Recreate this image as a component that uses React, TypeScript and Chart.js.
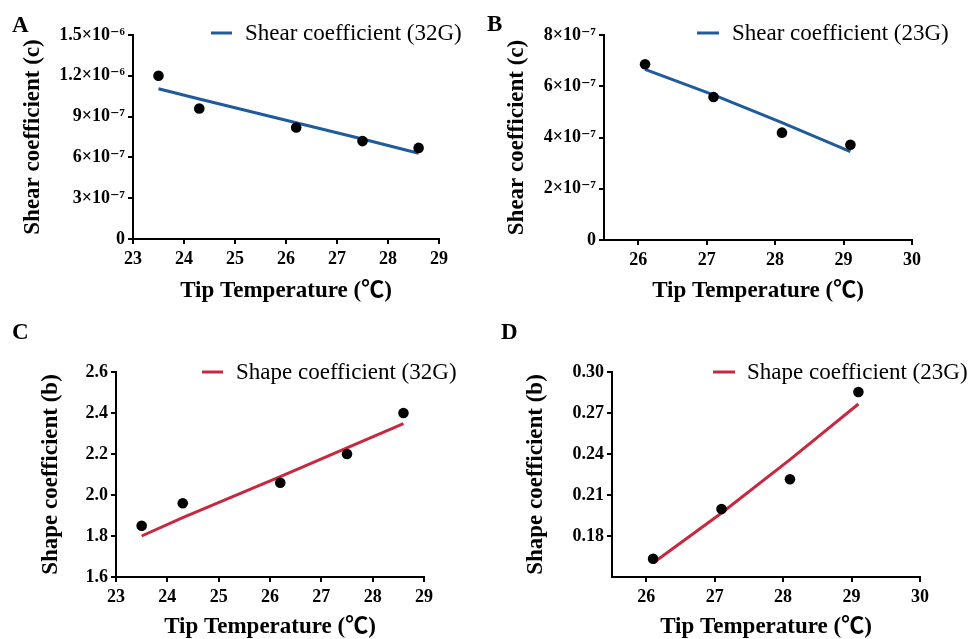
import React, { useEffect, useRef } from "react";
import { Chart, registerables } from "chart.js";

Chart.register(...registerables);

// ---------- DATA ----------
const tempA = [23.5, 24.3, 26.2, 27.5, 28.6];
const shearA = [1.2e-6, 0.96e-6, 0.82e-6, 0.72e-6, 0.67e-6];
const shearFitA = [1.105e-6, 1.03e-6, 0.855e-6, 0.735e-6, 0.63e-6];

const tempB = [26.1, 27.1, 28.1, 29.1];
const shearB = [6.86e-7, 5.58e-7, 4.19e-7, 3.72e-7];
const shearFitB = [6.66e-7, 5.66e-7, 4.58e-7, 3.45e-7];

const tempC = [23.5, 24.3, 26.2, 27.5, 28.6];
const shapeC = [1.85, 1.96, 2.06, 2.2, 2.4];
const shapeFitC = [1.8, 1.89, 2.09, 2.23, 2.348];

const tempD = [26.1, 27.1, 28.1, 29.1];
const shapeD = [0.1634, 0.1998, 0.2215, 0.2854];
const shapeFitD = [0.1602, 0.1968, 0.2359, 0.2766];

const xTicksAC = [23, 24, 25, 26, 27, 28, 29];
const xTicksBD = [26, 27, 28, 29, 30];

const yTicksA = [0, 3e-7, 6e-7, 9e-7, 1.2e-6, 1.5e-6];
const yLabelsA = ["0", "3×10⁻⁷", "6×10⁻⁷", "9×10⁻⁷", "1.2×10⁻⁶", "1.5×10⁻⁶"];
const yTicksB = [0, 2e-7, 4e-7, 6e-7, 8e-7];
const yLabelsB = ["0", "2×10⁻⁷", "4×10⁻⁷", "6×10⁻⁷", "8×10⁻⁷"];
const yTicksC = [1.6, 1.8, 2.0, 2.2, 2.4, 2.6];
const yLabelsC = ["1.6", "1.8", "2.0", "2.2", "2.4", "2.6"];
const yTicksD = [0.18, 0.21, 0.24, 0.27, 0.3];
const yLabelsD = ["0.18", "0.21", "0.24", "0.27", "0.30"];

const xTitle = "Tip Temperature (℃)";
const BLUE = "#1f5a9c";
const RED = "#c8283f";
const FONT = "'Liberation Serif', 'Times New Roman', 'DejaVu Serif', serif";
const TITLE_FONT = "'Liberation Serif', 'Times New Roman', 'Noto Sans CJK SC', serif";

// ---------- plugin drawing panel letter & legend ----------
const decorPlugin = {
  id: "decor",
  afterDraw(chart: any) {
    const o = chart.options.plugins.decor;
    if (!o) return;
    const ctx = chart.ctx;
    ctx.save();
    ctx.fillStyle = "#000";
    ctx.textBaseline = "middle";
    ctx.textAlign = "left";
    ctx.font = `bold 23px ${FONT}`;
    ctx.fillText(o.letter, o.letterX, o.letterY);
    ctx.strokeStyle = o.color;
    ctx.lineWidth = 3;
    ctx.beginPath();
    ctx.moveTo(o.sw1, o.legY);
    ctx.lineTo(o.sw2, o.legY);
    ctx.stroke();
    ctx.font = `23px ${FONT}`;
    ctx.fillText(o.text, o.textX, o.legY + 1);
    ctx.restore();
  },
};

type Panel = {
  w: number;
  h: number;
  left: number;
  top: number;
  xs: number[];
  ys: number[];
  fit: number[];
  xMin: number;
  xMax: number;
  xTicks: number[];
  yMin: number;
  yMax: number;
  yTicks: number[];
  yLabels: string[];
  yTitle: string;
  color: string;
  legend: string;
  pad: { top: number; right: number };
  yWidth: number;
  xHeight: number;
  yTitlePad: number;
  xTitlePad: number;
  decor: any;
};

function ChartPanel({ p }: { p: Panel }) {
  const ref = useRef<HTMLCanvasElement | null>(null);
  useEffect(() => {
    if (!ref.current) return;
    const fitData = p.xs.map((x, i) => ({ x, y: p.fit[i] }));
    const ptData = p.xs.map((x, i) => ({ x, y: p.ys[i] }));
    const chart = new Chart(ref.current, {
      type: "scatter",
      data: {
        datasets: [
          {
            label: p.legend,
            data: fitData,
            showLine: true,
            borderColor: p.color,
            borderWidth: 3,
            pointRadius: 0,
            fill: false,
            order: 2,
          } as any,
          {
            label: "data",
            data: ptData,
            pointRadius: 5.3,
            pointBackgroundColor: "#000",
            pointBorderWidth: 0,
            showLine: false,
            order: 1,
          } as any,
        ],
      },
      options: {
        animation: false,
        responsive: false,
        events: [],
        layout: { padding: { top: p.pad.top, right: p.pad.right, left: 0, bottom: 0 } },
        plugins: {
          legend: { display: false },
          tooltip: { enabled: false },
          decor: p.decor,
        } as any,
        scales: {
          x: {
            type: "linear",
            min: p.xMin,
            max: p.xMax,
            afterBuildTicks: (s: any) => {
              s.ticks = p.xTicks.map((v) => ({ value: v }));
            },
            afterFit: (s: any) => {
              s.height = p.xHeight;
            },
            ticks: {
              color: "#000",
              font: { family: FONT, size: 18, weight: "bold" },
              padding: 5,
              maxRotation: 0,
              callback: (v: any) => String(v),
            },
            grid: {
              drawOnChartArea: false,
              drawTicks: true,
              tickLength: 5,
              color: "#000",
              lineWidth: 2,
            },
            border: { color: "#000", width: 2 },
            title: {
              display: true,
              text: xTitle,
              color: "#000",
              font: { family: TITLE_FONT, size: 23, weight: "bold", lineHeight: 1 },
              padding: { top: 0, bottom: p.xTitlePad },
            },
          },
          y: {
            type: "linear",
            min: p.yMin,
            max: p.yMax,
            afterBuildTicks: (s: any) => {
              s.ticks = p.yTicks.map((v) => ({ value: v }));
            },
            afterFit: (s: any) => {
              s.width = p.yWidth;
            },
            ticks: {
              color: "#000",
              font: { family: FONT, size: 18, weight: "bold" },
              padding: 3,
              callback: (_v: any, i: number) => p.yLabels[i],
            },
            grid: {
              drawOnChartArea: false,
              drawTicks: true,
              tickLength: 5,
              color: "#000",
              lineWidth: 2,
            },
            border: { color: "#000", width: 2 },
            title: {
              display: true,
              text: p.yTitle,
              color: "#000",
              font: { family: FONT, size: 23, weight: "bold", lineHeight: 1 },
              padding: { top: p.yTitlePad, bottom: 0 },
            },
          },
        },
      } as any,
      plugins: [decorPlugin as any],
    });
    return () => chart.destroy();
  }, [p]);
  return (
    <canvas
      ref={ref}
      width={p.w}
      height={p.h}
      style={{ position: "absolute", left: p.left, top: p.top, width: p.w, height: p.h }}
    />
  );
}

const panels: Panel[] = [
  {
    w: 480, h: 310, left: 0, top: 0,
    xs: tempA, ys: shearA, fit: shearFitA,
    xMin: 23, xMax: 29, xTicks: xTicksAC,
    yMin: 0, yMax: 1.5e-6, yTicks: yTicksA, yLabels: yLabelsA,
    yTitle: "Shear coefficient (c)", color: BLUE, legend: "Shear coefficient (32G)",
    pad: { top: 35, right: 41 }, yWidth: 133, xHeight: 71, yTitlePad: 22, xTitlePad: 7,
    decor: { letter: "A", letterX: 12, letterY: 26, color: BLUE, sw1: 211, sw2: 232, legY: 33, textX: 245, text: "Shear coefficient (32G)" },
  },
  {
    w: 490, h: 310, left: 480, top: 0,
    xs: tempB, ys: shearB, fit: shearFitB,
    xMin: 25.5, xMax: 30, xTicks: xTicksBD,
    yMin: 0, yMax: 8e-7, yTicks: yTicksB, yLabels: yLabelsB,
    yTitle: "Shear coefficient (c)", color: BLUE, legend: "Shear coefficient (23G)",
    pad: { top: 35, right: 58 }, yWidth: 124, xHeight: 70, yTitlePad: 26, xTitlePad: 7,
    decor: { letter: "B", letterX: 7, letterY: 25, color: BLUE, sw1: 217, sw2: 239, legY: 33, textX: 252, text: "Shear coefficient (23G)" },
  },
  {
    w: 480, h: 319, left: 0, top: 320,
    xs: tempC, ys: shapeC, fit: shapeFitC,
    xMin: 23, xMax: 29, xTicks: xTicksAC,
    yMin: 1.6, yMax: 2.6, yTicks: yTicksC, yLabels: yLabelsC,
    yTitle: "Shape coefficient (b)", color: RED, legend: "Shape coefficient (32G)",
    pad: { top: 52, right: 56 }, yWidth: 116, xHeight: 62, yTitlePad: 40, xTitlePad: 0,
    decor: { letter: "C", letterX: 12, letterY: 13, color: RED, sw1: 202, sw2: 223, legY: 52, textX: 236, text: "Shape coefficient (32G)" },
  },
  {
    w: 490, h: 319, left: 480, top: 320,
    xs: tempD, ys: shapeD, fit: shapeFitD,
    xMin: 25.5, xMax: 30, xTicks: xTicksBD,
    yMin: 0.15, yMax: 0.3, yTicks: yTicksD, yLabels: yLabelsD,
    yTitle: "Shape coefficient (b)", color: RED, legend: "Shape coefficient (23G)",
    pad: { top: 52, right: 50 }, yWidth: 132, xHeight: 62, yTitlePad: 45, xTitlePad: 0,
    decor: { letter: "D", letterX: 21, letterY: 13, color: RED, sw1: 233, sw2: 255, legY: 52, textX: 267, text: "Shape coefficient (23G)" },
  },
];

export default function App() {
  return (
    <div
      style={{
        position: "absolute",
        left: 0,
        top: 0,
        width: 970,
        height: 639,
        background: "#fff",
        overflow: "hidden",
      }}
    >
      {panels.map((p, i) => (
        <ChartPanel key={i} p={p} />
      ))}
    </div>
  );
}
